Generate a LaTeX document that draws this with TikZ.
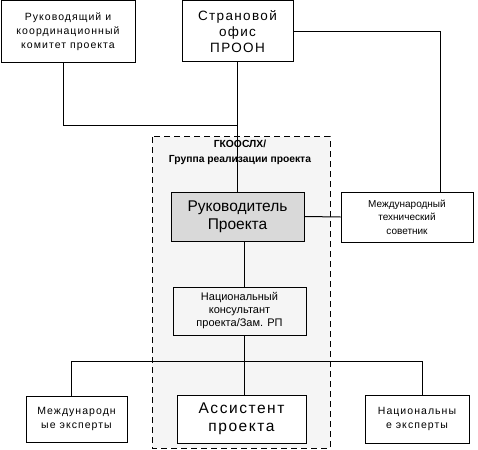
\documentclass[tikz,border=0pt]{standalone}
\usepackage{fontspec}
\setmainfont{Liberation Sans}
\newfontfamily\widesans[LetterSpace=10]{Liberation Sans}
\usetikzlibrary{positioning}

\begin{document}
\begin{tikzpicture}[x=1pt, y=-1pt,
  box/.style={draw, line width=1pt, fill=white, inner sep=1pt, align=center, font=\widesans\fontsize{10.5}{14}\selectfont},
  bigbox/.style={box, font=\fontsize{15.5}{18}\selectfont},
  smallbox/.style={box, font=\fontsize{11}{13}\selectfont},
  group/.style={draw, line width=1pt, dash pattern=on 6pt off 4pt, fill=black!4},
  lab/.style={font=\bfseries\fontsize{10.3}{15}\selectfont, align=center},
  link/.style={draw, line width=1pt}]
  \useasboundingbox (0,0) rectangle (478,449);
  % project implementation group (dashed frame)
  \draw[group] (152,137) rectangle (330,448);
  \node[lab] (grp) at (240,152) {ГКООСЛХ/\\Группа реализации проекта};
  % top level
  \node[box, minimum width=134, minimum height=62] (komitet) at (68,32) {Руководящий и\\координационный\\комитет проекта};
  \node[box, minimum width=111, minimum height=61, font=\widesans\fontsize{13.5}{16}\selectfont] (office) at (237.5,31.5) {Страновой\\офис\\ПРООН};
  % middle level
  \node[bigbox, fill=black!15, minimum width=133, minimum height=49] (leader) at (237.5,216.5) {Руководитель\\Проекта};
  \node[box, minimum width=132, minimum height=50, font=\normalfont\fontsize{10}{13.5}\selectfont] (advisor) at (407,217) {Международный\\технический\\советник};
  \node[smallbox, fill=black!4, minimum width=133, minimum height=48] (natcons) at (239.5,311) {Национальный\\консультант\\проекта/Зам. РП};
  % bottom level
  \node[box, minimum width=101, minimum height=46] (intexp) at (76.5,419) {Международн\\ые эксперты};
  \node[bigbox, minimum width=129, minimum height=48, font=\widesans\fontsize{15.5}{18}\selectfont] (assist) at (241.5,419) {Ассистент\\проекта};
  \node[box, minimum width=104, minimum height=48] (natexp) at (417,419) {Национальны\\е эксперты};
  % connectors
  \coordinate (jn) at (237,126);
  \coordinate (ta) at (440,0);
  \coordinate (bus) at (244,361);
  \coordinate (bl) at (71,361);
  \coordinate (br) at (422,361);
  \draw[link] ([xshift=-5]komitet.south) |- (jn);
  \draw[link] (office.south) -- (leader.north);
  \draw[link] (office.east) -| (advisor.north -| ta);
  \draw[link] (leader.east) -- (advisor.west);
  \draw[link] (leader.south -| bus) -- (natcons.north -| bus);
  \draw[link] (natcons.south -| bus) -- (assist.north -| bus);
  \draw[link] (intexp.north -| bl) -- (bl) -- (br) -- (natexp.north -| br);
\end{tikzpicture}
\end{document}
